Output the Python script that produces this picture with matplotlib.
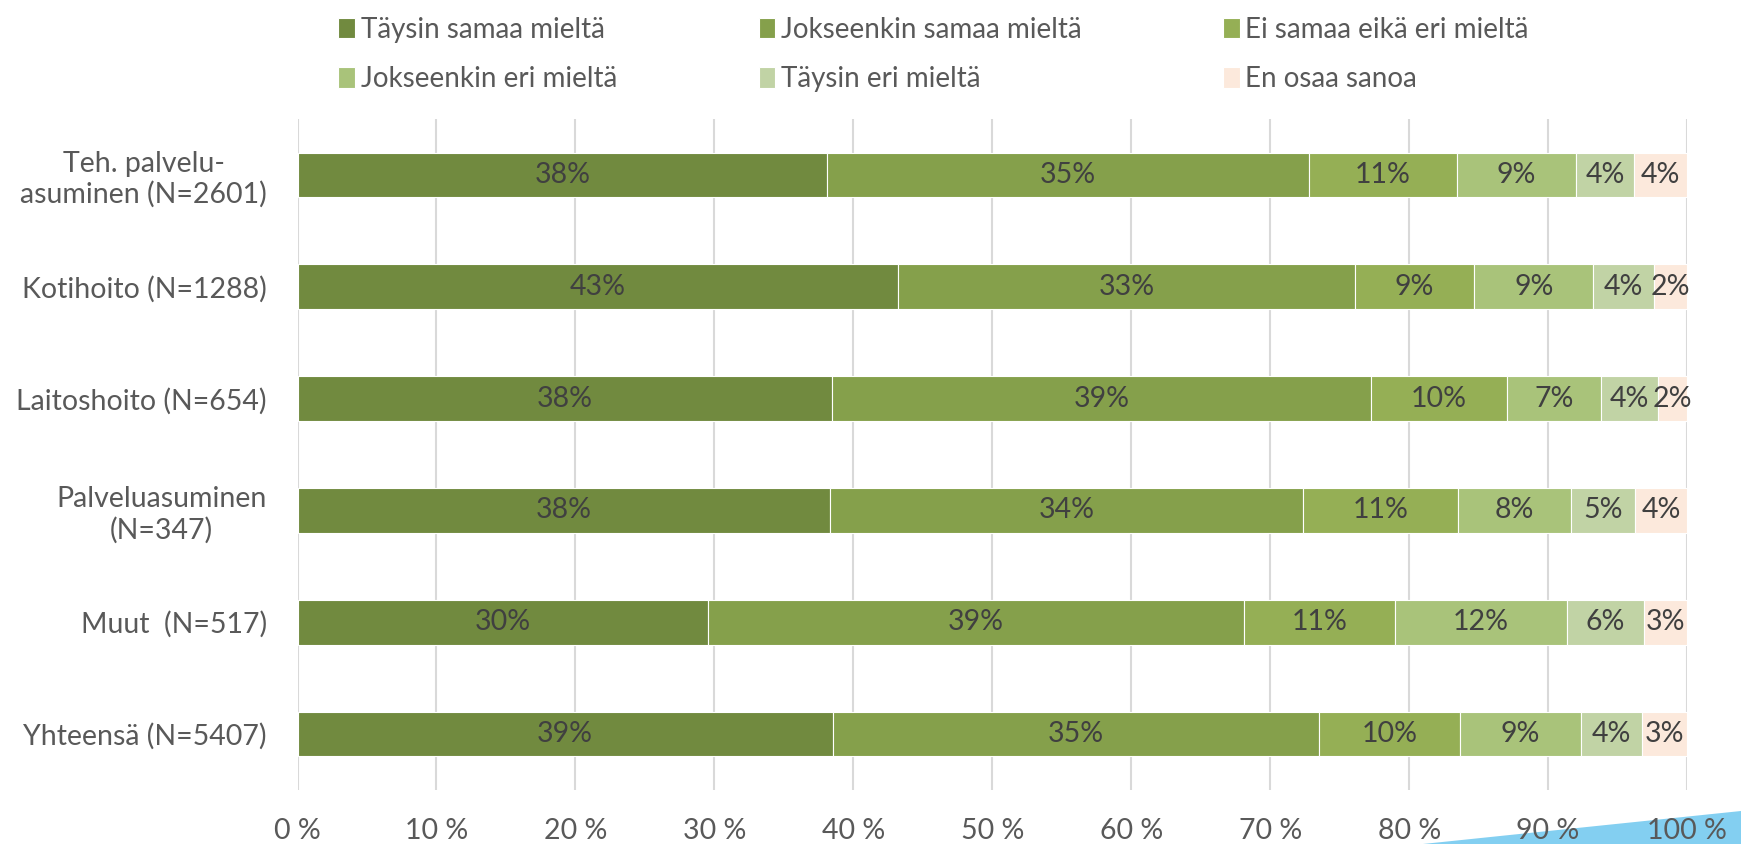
import matplotlib.pyplot as plt
import numpy as np
from matplotlib.patches import Polygon

# Vastaajaryhmät (ylhäältä alas)
ryhmat = ["Teh. palvelu-\nasuminen (N=2601)", "Kotihoito (N=1288)", "Laitoshoito (N=654)",
          "Palveluasuminen\n(N=347)", "Muut  (N=517)", "Yhteensä (N=5407)"]

vastaukset = ["Täysin samaa mieltä", "Jokseenkin samaa mieltä", "Ei samaa eikä eri mieltä",
              "Jokseenkin eri mieltä", "Täysin eri mieltä", "En osaa sanoa"]

# Osuudet (%) vastausvaihtoehdoittain
taysin_samaa = [38.11, 43.22, 38.45, 38.34, 29.55, 38.53]
jokseenkin_samaa = [34.67, 32.88, 38.80, 34.02, 38.55, 34.99]
ei_samaa_eika_eri = [10.66, 8.57, 9.79, 11.15, 10.85, 10.14]
jokseenkin_eri = [8.56, 8.59, 6.74, 8.14, 12.38, 8.71]
taysin_eri = [4.18, 4.37, 4.10, 4.60, 5.56, 4.39]
en_osaa = [3.82, 2.38, 2.12, 3.75, 3.11, 3.24]

sarjat = [taysin_samaa, jokseenkin_samaa, ei_samaa_eika_eri, jokseenkin_eri, taysin_eri, en_osaa]
varit = ["#718A3F", "#85A04B", "#95AF55", "#A9C37A", "#C1D3A5", "#FCE9DC"]

plt.rcParams['font.family'] = ['Lato', 'DejaVu Sans']

fig = plt.figure(figsize=(17.41, 8.44), dpi=100)
ax = fig.add_axes([0.1709, 0.064, 0.9690 - 0.1709, 0.859 - 0.064])

y = np.arange(len(ryhmat))
vasen = np.zeros(len(ryhmat))
palkit = []
for arvot, vari, nimi in zip(sarjat, varit, vastaukset):
    arvot = np.array(arvot)
    b = ax.barh(y, arvot, left=vasen, height=0.4, color=vari, edgecolor="white",
                linewidth=0.8, label=nimi, zorder=2)
    palkit.append(b)
    for yi, l, v in zip(y, vasen, arvot):
        ax.text(l + v / 2, yi, f"{v:.0f}%", ha="center", va="center",
                fontsize=20.5, color="#404040", zorder=3)
    vasen += arvot

ax.set_ylim(len(ryhmat) - 0.5, -0.5)
ax.set_xlim(0, 100)
ax.set_xticks(np.arange(0, 101, 10))
ax.set_xticklabels([f"{t} %" for t in range(0, 101, 10)])
ax.set_yticks(y)
ax.set_yticklabels(ryhmat)
for lab in ax.get_yticklabels():
    lab.set_multialignment("center")

ax.tick_params(axis="both", length=0, labelsize=20.5, labelcolor="#595959")
ax.tick_params(axis="x", pad=20)
ax.tick_params(axis="y", pad=22)
ax.grid(axis="x", color="#D9D9D9", linewidth=1.5, zorder=0)
ax.set_axisbelow(True)
for s in ax.spines.values():
    s.set_visible(False)

# Selite rivijärjestyksessä (kolme saraketta)
jarj = [0, 3, 1, 4, 2, 5]
fig.legend([palkit[i] for i in jarj], [vastaukset[i] for i in jarj], ncol=3,
           loc="upper left", bbox_to_anchor=(0.180, 1.01), frameon=False,
           fontsize=20, labelcolor="#595959", handlelength=0.6, handleheight=0.75,
           handletextpad=0.2, columnspacing=5.1, labelspacing=0.85)

# Koristeellinen sininen kolmio oikeassa alakulmassa
kolmio = Polygon([[1423 / 1741, 0], [1, (844 - 811) / 844], [1, 0]], closed=True,
                 transform=fig.transFigure, facecolor="#83CFF1", edgecolor="none", zorder=-1)
fig.patches.append(kolmio)

fig.savefig("out.png", dpi=100)
